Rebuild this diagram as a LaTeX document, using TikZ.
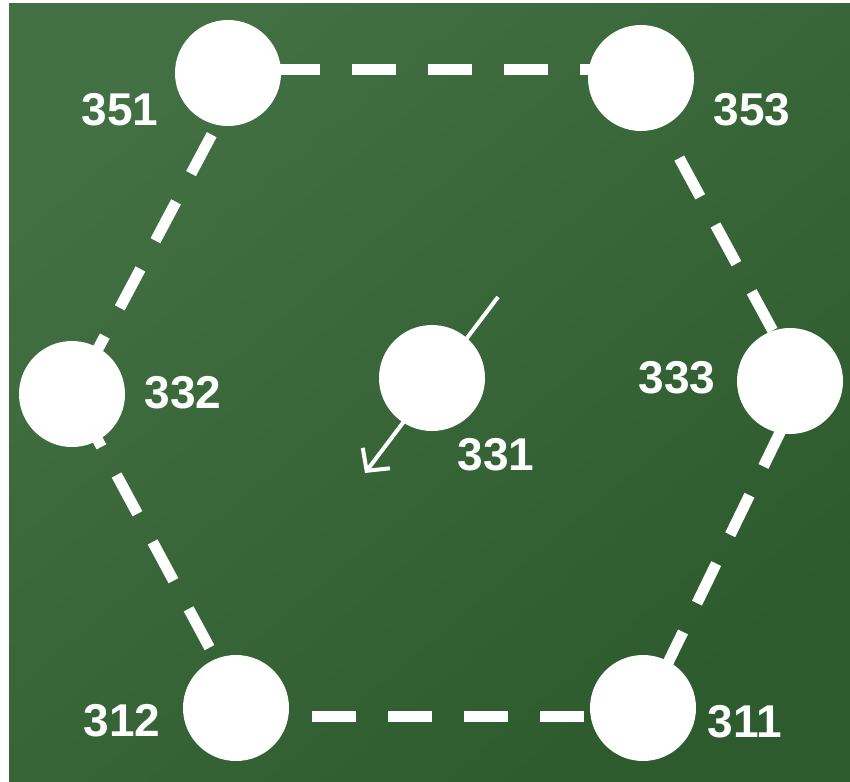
\documentclass[tikz,border=0pt]{standalone}
\usepackage{fontspec}
\setmainfont{Liberation Sans}
\usetikzlibrary{arrows.meta}
\definecolor{bgA}{RGB}{66,112,66}
\definecolor{bgB}{RGB}{45,91,46}
\begin{document}
\begin{tikzpicture}[x=1pt,y=-1pt,
  dot/.style={circle,fill=white,draw=none,minimum size=106pt,inner sep=0pt},
  lab/.style={text=white,font=\fontsize{46}{46}\selectfont\bfseries,inner sep=0pt},
  hexedge/.style={draw=white,line width=11pt,dash pattern=on 44pt off 32pt},
  arrowline/.style={draw=white,line width=4pt,-{Straight Barb[length=16pt,width=34pt,line width=4pt]}}]
\useasboundingbox (0,0) rectangle (850,781);
\fill[white] (0,0) rectangle (850,781);
\shade[top color=bgA,bottom color=bgB,shading angle=40] (9,4) rectangle (850,781);
% centres
\coordinate (c351) at (228,73);
\coordinate (c353) at (641,78);
\coordinate (c333) at (790,381);
\coordinate (c311) at (643,708);
\coordinate (c312) at (236,708);
\coordinate (c332) at (72,394);
\coordinate (c331) at (432,378);
% edge ends
\coordinate (t1) at (200,70);
\coordinate (t2) at (641,70);
\coordinate (b1) at (236,716);
\coordinate (b2) at (643,716);
\coordinate (l1) at (245,72);
\coordinate (l2) at (74,394);
\coordinate (l3) at (73,394);
\coordinate (l4) at (242,708);
\coordinate (r1) at (664,130);
\coordinate (r2) at (800,381);
\coordinate (r3) at (805,381);
\coordinate (r4) at (646,708);
\coordinate (a1) at (498,297);
\coordinate (a2) at (365,473);
% dashed hexagon
\draw[hexedge] (t1) -- (t2);
\draw[hexedge] (b1) -- (b2);
\draw[hexedge,dash phase=5pt] (l1) -- (l2);
\draw[hexedge,dash phase=60pt] (l3) -- (l4);
\draw[hexedge,dash phase=44pt] (r1) -- (r2);
\draw[hexedge,dash phase=25pt] (r3) -- (r4);
% arrow
\draw[arrowline] (a1) -- (a2);
% circles
\node[dot] (n351) at (c351) {};
\node[dot] (n353) at (c353) {};
\node[dot] (n333) at (c333) {};
\node[dot] (n311) at (c311) {};
\node[dot] (n312) at (c312) {};
\node[dot] (n332) at (c332) {};
\node[dot] (n331) at (c331) {};
% labels
\node[lab] (t351) at (120,110) {351};
\node[lab] (t353) at (752,110) {353};
\node[lab] (t312) at (122,721) {312};
\node[lab] (t311) at (745,722) {311};
\node[lab] (t332) at (183,393) {332};
\node[lab] (t333) at (677,378) {333};
\node[lab] (t331) at (496,455) {331};
\end{tikzpicture}
\end{document}
